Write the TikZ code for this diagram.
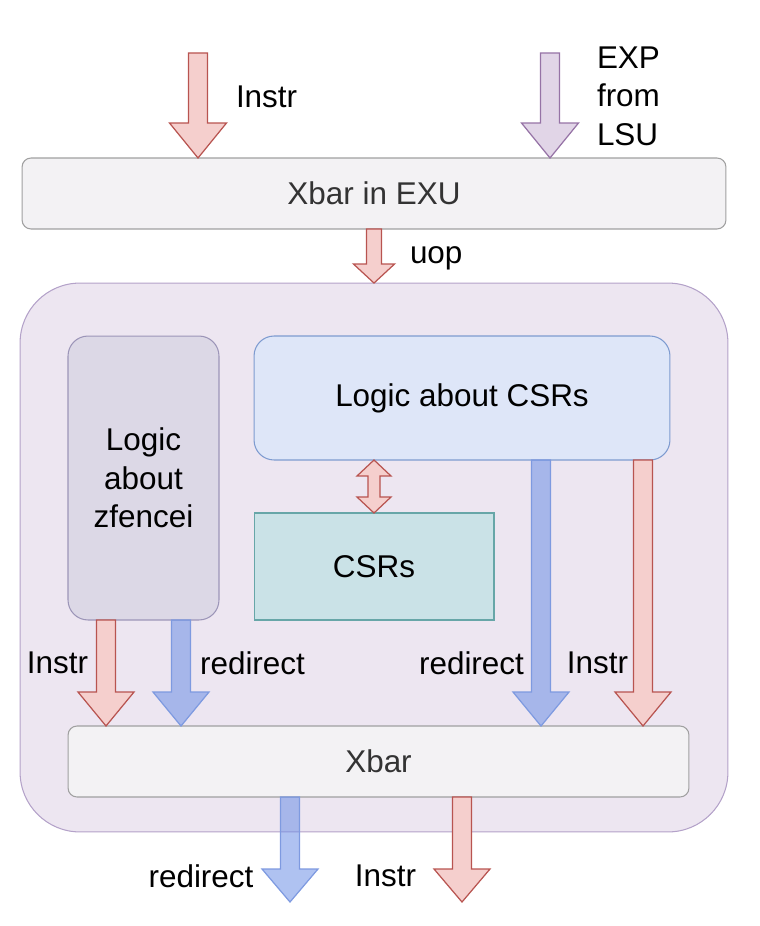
\documentclass[tikz,border=0pt]{standalone}
\usepackage{fontspec}
\setmainfont{Liberation Sans}
\usepackage{tikz}
\usetikzlibrary{positioning, calc}
\definecolor{redfill}{HTML}{F5CFCD}
\definecolor{redline}{HTML}{B85450}
\definecolor{purfill}{HTML}{E1D5E7}
\definecolor{purline}{HTML}{9673A6}
\definecolor{bluefill}{HTML}{6D8FE6}
\definecolor{blueline}{HTML}{7E9AE0}
\definecolor{outerfill}{HTML}{EDE6F1}
\definecolor{outerline}{HTML}{B4A2C9}
\definecolor{zfill}{HTML}{DCD8E6}
\definecolor{zline}{HTML}{9C95B8}
\definecolor{csrfill}{HTML}{DEE6F8}
\definecolor{csrline}{HTML}{7E9BD0}
\definecolor{regfill}{HTML}{CAE2E7}
\definecolor{regline}{HTML}{67A6A8}
\definecolor{xbarfill}{HTML}{F3F2F4}
\definecolor{xbarline}{HTML}{A0A0A0}
\tikzstyle{xbarbox} = [rectangle, rounded corners=0.18cm,
minimum height=1.42cm,
draw=xbarline, fill=xbarfill, text=black!80]
\tikzstyle{logicbox} = [rectangle, rounded corners=0.4cm,
align=center]
\tikzstyle{lbl} = [inner sep=0pt]
\tikzstyle{redarrow} = [draw=redline, fill=redfill, line width=0.7pt, line join=miter]
\tikzstyle{purarrow} = [draw=purline, fill=purfill, line width=0.7pt]
\tikzstyle{bluearrow} = [draw=blueline, fill=bluefill, fill opacity=0.55, line width=0.7pt]
% fat arrow: style, from, to, half shaft, half head, head length
\newcommand{\fatarrow}[6]{%
\draw[#1] ($#2+(-#4,0)$) -- ($#3+(-#4,-#6)$) -- ($#3+(-#5,-#6)$) -- #3
 -- ($#3+(#5,-#6)$) -- ($#3+(#4,-#6)$) -- ($#2+(#4,0)$) -- cycle;}

\begin{document}
\begin{tikzpicture}[x=0.02cm, y=-0.02cm, line width=0.6pt, outer sep=0pt,
every node/.style={font=\fontsize{17.9}{21.9}\selectfont}]
\useasboundingbox (0,0) rectangle (760,926);

% boxes
\node (xbarexu) [xbarbox, minimum width=14.08cm] at (374,193.5) {Xbar in EXU};
\node (outer) [rectangle, rounded corners=1.2cm, minimum width=14.16cm,
  minimum height=10.98cm, draw=outerline, fill=outerfill] at (374,557.5) {};
\node (zfencei) [logicbox, minimum width=3.02cm, minimum height=5.68cm,
  draw=zline, fill=zfill] at (143.5,478) {Logic\\about\\zfencei};
\node (csrlogic) [logicbox, minimum width=8.32cm, minimum height=2.48cm,
  draw=csrline, fill=csrfill] at (462,398) {Logic about CSRs};
\node (csrs) [rectangle, minimum width=4.8cm, minimum height=2.14cm,
  draw=regline, fill=regfill] at (374,566.5) {CSRs};
\node (xbar) [xbarbox, minimum width=12.42cm] at (378.5,761.5) {Xbar};

% inputs
\coordinate (instrtop) at (198,53);
\coordinate (exptop) at (550,53);
\fatarrow{redarrow}{(instrtop)}{(instrtop |- xbarexu.north)}{9.5}{28.5}{35}
\fatarrow{purarrow}{(exptop)}{(exptop |- xbarexu.north)}{9.5}{28.5}{35}
\node (linstr) [lbl, anchor=west] at (236,97) {Instr};
\node (lexp) [lbl, anchor=west, align=left] at (597,96) {EXP\\from\\LSU};

\fatarrow{redarrow}{(xbarexu.south)}{(outer.north)}{7.5}{20.5}{19}
\node (luop) [lbl, anchor=west] at (410,258) {uop};

% csr logic <-> csrs
\coordinate (csrup) at (csrs.north |- csrlogic.south);
\draw[redarrow] (csrup) -- ++(17,16) -- ++(-11,0) -- ($(csrs.north)+(6,-16)$)
  -- ++(11,0) -- (csrs.north) -- ++(-17,-16) -- ++(11,0) -- ($(csrup)+(-6,16)$)
  -- ++(-11,0) -- cycle;

% zfencei outputs
\coordinate (zinstr) at ($(zfencei.south)+(-37.5,0)$);
\coordinate (zredir) at ($(zfencei.south)+(37.5,0)$);
\fatarrow{redarrow}{(zinstr)}{(zinstr |- xbar.north)}{9.5}{28}{34}
\fatarrow{bluearrow}{(zredir)}{(zredir |- xbar.north)}{9.5}{28}{34}
\node (lzinstr) [lbl] at (57.5,663) {Instr};
\node (lzredir) [lbl] at (252.5,663) {redirect};

% csr logic outputs
\coordinate (credir) at ($(csrlogic.south)+(79,0)$);
\coordinate (cinstr) at ($(csrlogic.south)+(181,0)$);
\fatarrow{bluearrow}{(credir)}{(credir |- xbar.north)}{9.5}{28}{34}
\fatarrow{redarrow}{(cinstr)}{(cinstr |- xbar.north)}{9.5}{28}{34}
\node (lcredir) [lbl] at (471.5,663) {redirect};
\node (lcinstr) [lbl] at (597.5,663) {Instr};

% outputs
\coordinate (oredir) at ($(xbar.south)+(-88.5,0)$);
\coordinate (oinstr) at ($(xbar.south)+(83.5,0)$);
\fatarrow{bluearrow}{(oredir)}{($(oredir)+(0,105)$)}{9.5}{28}{33}
\fatarrow{redarrow}{(oinstr)}{($(oinstr)+(0,105)$)}{9.5}{28}{33}
\node (loredir) [lbl] at (201,876) {redirect};
\node (loinstr) [lbl] at (385.5,876) {Instr};
\end{tikzpicture}
\end{document}
